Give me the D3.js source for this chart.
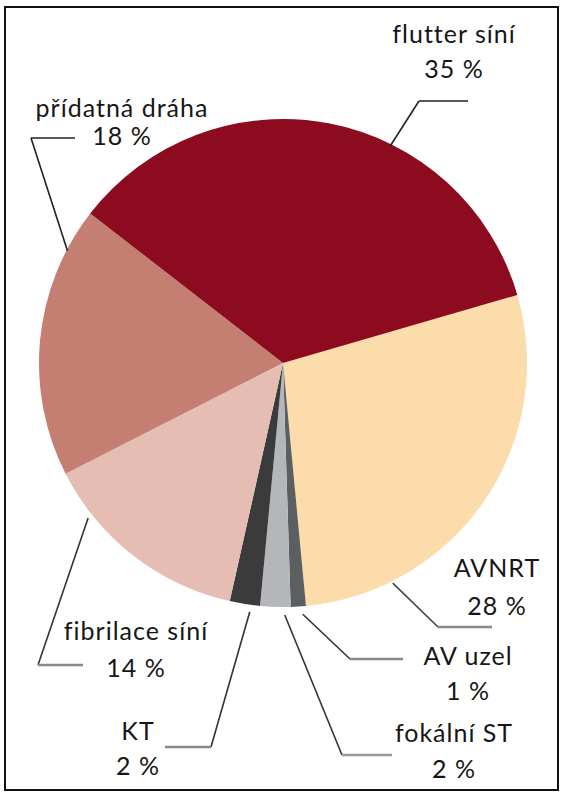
<!DOCTYPE html>
<html>
<head>
<meta charset="utf-8">
<script src="https://cdn.jsdelivr.net/npm/d3@7"></script>
<style>
  html, body { margin: 0; padding: 0; background: #fff; }
  svg { display: block; }
  text { font-family: Lato, "Open Sans", sans-serif; fill: #161616; }
</style>
</head>
<body>
<svg id="chart" width="570" height="800"></svg>
<script>
// data (percent)
const categories = ["AVNRT", "AV uzel", "fokální ST", "KT", "fibrilace síní", "přídatná dráha", "flutter síní"];
const shares = [28, 1, 2, 2, 14, 18, 35];
const shareLabels = ["28 %", "1 %", "2 %", "2 %", "14 %", "18 %", "35 %"];

// colours per slice
const sliceColors = ["#fcdcaa", "#5a5f62", "#b4b6b9", "#3b3b3b", "#e5bdb3", "#c47e72", "#8d0b1f"];

// label layout: anchor angle on the rim (deg), gap from rim, elbow, end of leader, text centre and baselines
const labelLayout = [
  {angle: 153.5, gap: 2, elbow: [438, 627], end: [492, 627], tx: 497, ty: [577, 615], diag: "#444", flat: "#888"},
  {angle: 175.5, gap: 8, elbow: [350, 659], end: [403, 659], tx: 468, ty: [665, 700], diag: "#333", flat: "#888"},
  {angle: 179.6, gap: 8, elbow: [342, 755], end: [392, 755], tx: 454, ty: [742, 778], diag: "#333", flat: "#999"},
  {angle: 187.6, gap: 7, elbow: [211, 747], end: [165, 747], tx: 138, ty: [740, 775], diag: "#333", flat: "#888"},
  {angle: 231.5, gap: 5, elbow: [38, 665], end: [83, 665], tx: 136, ty: [640, 677], diag: "#333", flat: "#888"},
  {angle: 297.5, gap: -1, elbow: [31, 138], end: [75, 138], tx: 122, ty: [117, 145], diag: "#222", flat: "#222"},
  {angle: 26.3, gap: -2, elbow: [419, 101], end: [468, 101], tx: 454, ty: [43, 78], diag: "#222", flat: "#222"}
];

const svg = d3.select("#chart");
const center = {x: 283, y: 363};
const radius = 244;
const startDeg = 73.8;
const rad = d => d * Math.PI / 180;

// frame
svg.append("rect")
  .attr("x", 5).attr("y", 7)
  .attr("width", 553).attr("height", 783)
  .attr("fill", "none").attr("stroke", "#111").attr("stroke-width", 2);

const table = categories.map((c, i) => ({name: c, value: shares[i], label: shareLabels[i], color: sliceColors[i], lay: labelLayout[i]}));

const pie = d3.pie()
  .sort(null)
  .value(d => d.value)
  .startAngle(rad(startDeg))
  .endAngle(rad(startDeg) + 2 * Math.PI);

const arc = d3.arc().innerRadius(0).outerRadius(radius);

const g = svg.append("g").attr("transform", `translate(${center.x},${center.y})`);

g.selectAll("path.slice")
  .data(pie(table))
  .join("path")
  .attr("class", "slice")
  .attr("d", arc)
  .attr("fill", d => d.data.color);

// leaders
const leaders = svg.append("g").attr("fill", "none").attr("stroke-width", 1.6);
table.forEach(d => {
  const p = d3.pointRadial(rad(d.lay.angle), radius + d.lay.gap);
  const start = [center.x + p[0], center.y + p[1]];
  leaders.append("line")
    .attr("x1", start[0]).attr("y1", start[1])
    .attr("x2", d.lay.elbow[0]).attr("y2", d.lay.elbow[1])
    .attr("stroke", d.lay.diag);
  leaders.append("line")
    .attr("x1", d.lay.elbow[0]).attr("y1", d.lay.elbow[1])
    .attr("x2", d.lay.end[0]).attr("y2", d.lay.end[1])
    .attr("stroke", d.lay.flat)
    .attr("stroke-width", d.lay.flat === "#222" ? 1.6 : 2.4);
});

// labels
const labels = svg.append("g")
  .attr("text-anchor", "middle")
  .style("font-size", "25px")
  .style("letter-spacing", "1px");
table.forEach(d => {
  labels.append("text").attr("x", d.lay.tx).attr("y", d.lay.ty[0]).text(d.name);
  labels.append("text").attr("x", d.lay.tx).attr("y", d.lay.ty[1]).text(d.label);
});
</script>
</body>
</html>
